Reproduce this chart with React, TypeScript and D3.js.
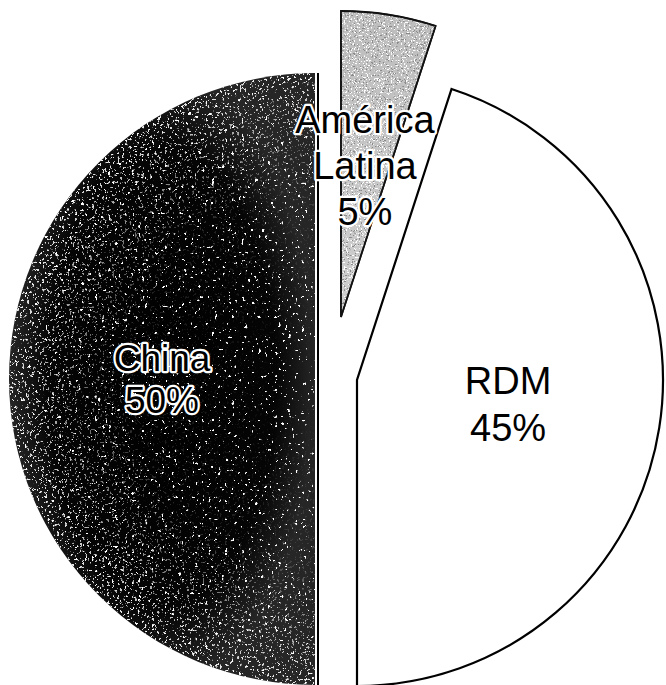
import React from "react";
import * as d3 from "d3";

const categories = ["América Latina", "RDM", "China"];
const values = [5, 45, 50];
const labelLines = [["América", "Latina"], ["RDM"], ["China"]];

const W = 666;
const H = 685;
const CX = 315;
const CY = 379;
const R = 306;
const explode = [
  { dx: 26, dy: -62 },
  { dx: 42, dy: 1 },
  { dx: 0, dy: 0 },
];
const FONT = "'Liberation Sans', Arial, sans-serif";

export default function App() {
  const pie = d3
    .pie<number>()
    .sort(null)
    .startAngle(0)
    .endAngle(2 * Math.PI)
    .value((d) => d);
  const arcs = pie(values);
  const arc = d3.arc<d3.PieArcDatum<number>>().innerRadius(0).outerRadius(R);
  const total = d3.sum(values);
  const pct = d3.format(".0%");

  const fills = ["url(#gradLat)", "#ffffff", "url(#gradChina)"];
  const strokes = ["#222", "#000", "none"];
  const fontSizes = [38, 38, 37];
  const lineH = [46, 47, 42];
  const halo = [true, false, true];

  return (
    <svg
      width={W}
      height={H}
      style={{ position: "absolute", left: 0, top: 0, background: "#fff" }}
    >
      <defs>
        <radialGradient id="gradChina" cx="50%" cy="50%" r="50%">
          <stop offset="0%" stopColor="#000" />
          <stop offset="75%" stopColor="#050505" />
          <stop offset="100%" stopColor="#262626" />
        </radialGradient>
        <linearGradient id="gradLat" x1="0" y1="0" x2="0" y2="1">
          <stop offset="0%" stopColor="#bdbdbd" />
          <stop offset="100%" stopColor="#cfcfcf" />
        </linearGradient>
        <radialGradient id="edgeMaskGrad" cx="50%" cy="50%" r="50%">
          <stop offset="0%" stopColor="#000" />
          <stop offset="60%" stopColor="#222" />
          <stop offset="100%" stopColor="#fff" />
        </radialGradient>
        <filter id="speckWhite" x="0" y="0" width="100%" height="100%">
          <feTurbulence type="fractalNoise" baseFrequency="0.3" numOctaves="2" seed="4" result="n" />
          <feColorMatrix
            in="n"
            type="matrix"
            values="0 0 0 0 1  0 0 0 0 1  0 0 0 0 1  24 0 0 0 -16.6"
            result="t"
          />
          <feComposite in="t" in2="SourceGraphic" operator="in" />
        </filter>
        <filter id="speckWhite2" x="0" y="0" width="100%" height="100%">
          <feTurbulence type="fractalNoise" baseFrequency="0.4" numOctaves="2" seed="9" result="n" />
          <feColorMatrix
            in="n"
            type="matrix"
            values="0 0 0 0 0.85  0 0 0 0 0.85  0 0 0 0 0.85  20 0 0 0 -12.6"
            result="t"
          />
          <feComposite in="t" in2="SourceGraphic" operator="in" />
        </filter>
        <filter id="speckDark" x="0" y="0" width="100%" height="100%">
          <feTurbulence type="fractalNoise" baseFrequency="0.55" numOctaves="2" seed="2" result="n" />
          <feColorMatrix
            in="n"
            type="matrix"
            values="0 0 0 0 0.25  0 0 0 0 0.25  0 0 0 0 0.25  20 0 0 0 -12.6"
            result="t"
          />
          <feComposite in="t" in2="SourceGraphic" operator="in" />
        </filter>
        <filter id="speckLight" x="0" y="0" width="100%" height="100%">
          <feTurbulence type="fractalNoise" baseFrequency="0.6" numOctaves="2" seed="7" result="n" />
          <feColorMatrix
            in="n"
            type="matrix"
            values="0 0 0 0 1  0 0 0 0 1  0 0 0 0 1  20 0 0 0 -12.2"
            result="t"
          />
          <feComposite in="t" in2="SourceGraphic" operator="in" />
        </filter>
        <mask id="edgeMask" maskUnits="userSpaceOnUse" x="0" y="0" width={W} height={H}>
          <circle cx={CX} cy={CY} r={R} fill="url(#edgeMaskGrad)" />
        </mask>
      </defs>

      {arcs.map((a, i) => {
        const o = explode[i];
        const d = arc(a) || "";
        return (
          <g key={categories[i]} transform={`translate(${CX + o.dx},${CY + o.dy})`}>
            <path d={d} fill={fills[i]} stroke={strokes[i]} strokeWidth={i === 1 ? 2.2 : 1.6} />
            {i === 2 && (
              <>
                <path d={d} fill="#fff" filter="url(#speckWhite)" />
                <g mask="url(#edgeMask)" transform={`translate(${-CX},${-CY})`}>
                  <path
                    d={d}
                    transform={`translate(${CX},${CY})`}
                    fill="#fff"
                    filter="url(#speckWhite2)"
                  />
                </g>
                <line x1={3} x2={3} y1={-R} y2={R} stroke="#000" strokeWidth={2} />
              </>
            )}
            {i === 0 && (
              <>
                <path d={d} fill="#000" filter="url(#speckDark)" />
                <path d={d} fill="#fff" filter="url(#speckLight)" />
                <path d={d} fill="none" stroke="#111" strokeWidth={1.8} />
              </>
            )}
          </g>
        );
      })}

      {arcs.map((a, i) => {
        const o = explode[i];
        const [lx, ly] = arc.centroid(a);
        const lines = [...labelLines[i], pct(values[i] / total)];
        const fs = fontSizes[i];
        const lh = lineH[i];
        const cap = fs * 0.716;
        const blockH = (lines.length - 1) * lh + cap;
        const firstBase = -blockH / 2 + cap;
        return (
          <text
            key={"t" + categories[i]}
            x={CX + o.dx + lx}
            y={CY + o.dy + ly}
            textAnchor="middle"
            fontFamily={FONT}
            fontSize={fs}
            fill="#000"
            stroke={halo[i] ? "#fff" : "none"}
            strokeWidth={halo[i] ? 4.5 : 0}
            strokeLinejoin="round"
            style={{ paintOrder: "stroke" }}
          >
            {lines.map((ln, k) => (
              <tspan key={k} x={CX + o.dx + lx} y={CY + o.dy + ly + firstBase + k * lh}>
                {ln}
              </tspan>
            ))}
          </text>
        );
      })}
    </svg>
  );
}
